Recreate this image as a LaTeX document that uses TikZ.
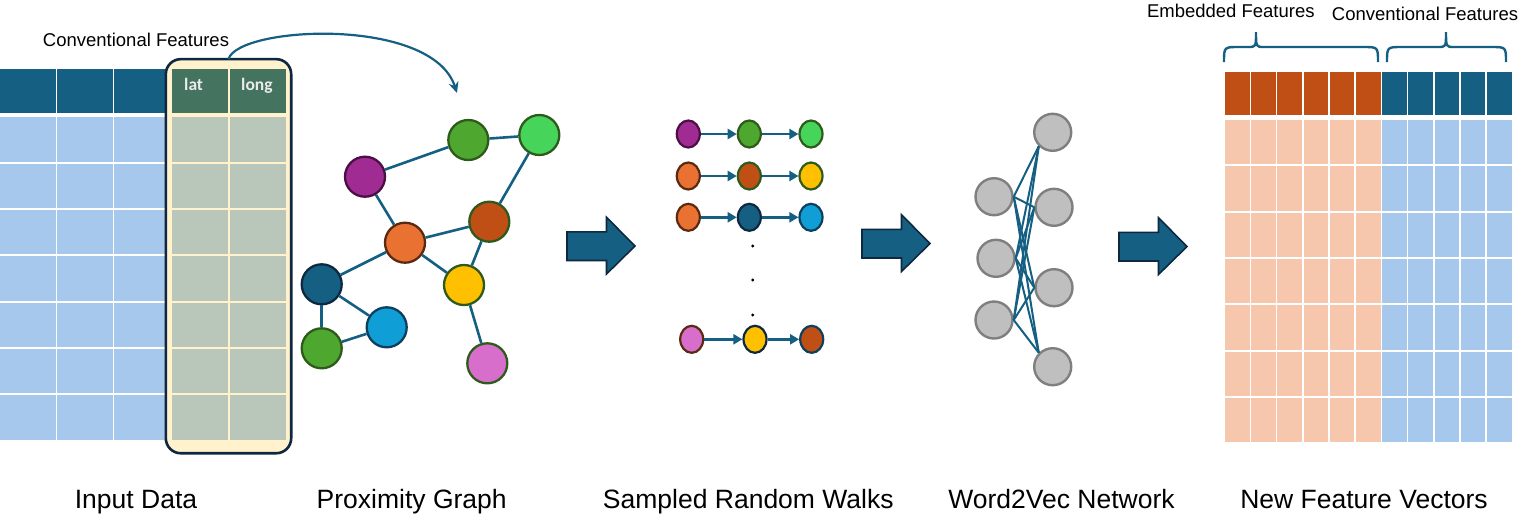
\documentclass[tikz,border=0pt]{standalone}
\usepackage{fontspec}
\setmainfont{Liberation Sans}
\newfontfamily\hdrfont{Carlito}
\usetikzlibrary{arrows.meta,shapes.geometric}
\definecolor{hdrblue}{HTML}{156082}
\definecolor{cellblue}{HTML}{A6C8EC}
\definecolor{hdrorange}{HTML}{C04F15}
\definecolor{cellorange}{HTML}{F6C6AD}
\definecolor{hlyellow}{HTML}{FFF2CC}
\definecolor{hlhdr}{HTML}{44735F}
\definecolor{hlcell}{HTML}{B8C7B9}
\definecolor{navy}{HTML}{0E2841}
\definecolor{edgeblue}{HTML}{156082}
\definecolor{cpurple}{HTML}{A02B93}
\definecolor{cgreen}{HTML}{4EA72E}
\definecolor{clgreen}{HTML}{47D45A}
\definecolor{corange}{HTML}{E97132}
\definecolor{cbrown}{HTML}{C04F15}
\definecolor{cyellow}{HTML}{FFC000}
\definecolor{cdblue}{HTML}{156082}
\definecolor{cblue}{HTML}{0F9ED5}
\definecolor{cpink}{HTML}{D86ECC}
\definecolor{dpurple}{HTML}{4B0F44}
\definecolor{dgreen}{HTML}{2E5A1C}
\definecolor{dorange}{HTML}{5A2A10}
\definecolor{dblue}{HTML}{0E3F5C}
\definecolor{ngray}{HTML}{BFBFBF}
\definecolor{ngrayd}{HTML}{7F7F7F}
\begin{document}
\begin{tikzpicture}[x=1pt,y=-1pt,
  gn/.style={circle, minimum size=40, inner sep=0, line width=2.3},
  wn/.style={ellipse, minimum width=23, minimum height=27, inner sep=0, line width=2.2},
  nn/.style={circle, minimum size=37, inner sep=0, line width=2.4, fill=ngray, draw=ngrayd},
  gedge/.style={draw=edgeblue, line width=2.6},
  wedge/.style={draw=edgeblue, line width=2.6, -{Triangle[length=9,width=10]}},
  nedge/.style={draw=edgeblue, line width=2},
  blockarrow/.style={fill=hdrblue, draw=navy, line width=1.6},
  brace/.style={draw=edgeblue, line width=2.4},
  smalltxt/.style={font=\fontsize{18.5}{22}\selectfont, inner sep=0, anchor=base},
  bigtxt/.style={font=\fontsize{26.5}{31}\selectfont, inner sep=0, anchor=base},
  hdrtxt/.style={font=\hdrfont\bfseries\fontsize{17.5}{20}\selectfont, text=white!92!black, inner sep=0, anchor=base west}
]
\useasboundingbox (0,0) rectangle (1522,523);

% ---------------- Input data table ----------------
\foreach \i in {0,1,2} {
  \fill[hdrblue] (57.2*\i, 69.3) rectangle ++(55.6, 43.4);
  \foreach \j in {0,...,6} {
    \fill[cellblue] (57.2*\i, 117.3+46.35*\j) rectangle ++(55.6, 44.4);
  }
}
\node[minimum width=125, minimum height=393.7, rounded corners=15, fill=hlyellow, inner sep=0] (hl) at (228.5,256.2) {};
\foreach \x/\w in {172/56.3, 230/55.7} {
  \fill[hlhdr] (\x, 69.3) rectangle ++(\w, 43.4);
  \foreach \j in {0,...,6} {
    \fill[hlcell] (\x, 117.3+46.35*\j) rectangle ++(\w, 44.4);
  }
}
\draw[navy, line width=2.6, rounded corners=15] (hl.south west) rectangle (hl.north east);
\node[hdrtxt] (lat) at (184,90.7) {lat};
\node[hdrtxt] (long) at (241,90.7) {long};
\node[smalltxt] (convL) at (136,46.7) {Conventional Features};

% curved arrow to graph
\coordinate (arrEnd) at (457,93);
\draw[edgeblue, line width=2.2, -{Stealth[length=11,width=10]}] (hl.north) .. controls (238,26) and (432,16) .. (arrEnd);

% ---------------- Proximity graph ----------------
\node[gn, fill=cpurple, draw=dpurple] (gP) at (365,176.7) {};
\node[gn, fill=cgreen, draw=dgreen] (gG1) at (468.3,140) {};
\node[gn, fill=clgreen, draw=dgreen] (gLG) at (539.3,135) {};
\node[gn, fill=corange, draw=dorange] (gO) at (405,242.7) {};
\node[gn, fill=cbrown, draw=dgreen] (gB) at (489.3,221.7) {};
\node[gn, fill=cyellow, draw=dgreen] (gY) at (464,285) {};
\node[gn, fill=cdblue, draw=navy] (gD) at (321.7,284.3) {};
\node[gn, fill=cblue, draw=dblue] (gBl) at (386.7,327.3) {};
\node[gn, fill=cgreen, draw=dgreen] (gG2) at (321.7,348.3) {};
\node[gn, fill=cpink, draw=dgreen] (gPk) at (487.3,363.3) {};
\foreach \a/\b in {gP/gG1, gG1/gLG, gLG/gB, gP/gO, gO/gB, gO/gY, gB/gY, gO/gD, gD/gG2, gD/gBl, gG2/gBl, gY/gPk} {
  \draw[gedge] (\a) -- (\b);
}

% ---------------- Block arrows ----------------
\foreach \x/\y in {567/246, 862/243.5, 1119/246.5} {
  \path[blockarrow] (\x,\y-14.2) -- (\x+39.5,\y-14.2) -- (\x+39.5,\y-28.7) -- (\x+68,\y) -- (\x+39.5,\y+28) -- (\x+39.5,\y+14.5) -- (\x,\y+14.5) -- cycle;
}

% ---------------- Random walks ----------------
\node[wn, fill=cpurple, draw=dpurple] (w11) at (688.3,134) {};
\node[wn, fill=cgreen, draw=dgreen] (w12) at (749.3,134) {};
\node[wn, fill=clgreen, draw=dgreen] (w13) at (811,134) {};
\node[wn, fill=corange, draw=dorange] (w21) at (688.3,176) {};
\node[wn, fill=cbrown, draw=dgreen] (w22) at (749.3,176) {};
\node[wn, fill=cyellow, draw=dgreen] (w23) at (811,176) {};
\node[wn, fill=corange, draw=dorange] (w31) at (688.3,217.3) {};
\node[wn, fill=cdblue, draw=navy] (w32) at (749.3,217.3) {};
\node[wn, fill=cblue, draw=dblue] (w33) at (811,217.3) {};
\node[wn, fill=cpink, draw=dorange] (w41) at (691.7,339.3) {};
\node[wn, fill=cyellow, draw=navy] (w42) at (755,339.3) {};
\node[wn, fill=cbrown, draw=dblue] (w43) at (811.7,339.3) {};
\foreach \r in {1,2,3,4} {
  \draw[wedge] (w\r1) -- (w\r2);
  \draw[wedge] (w\r2) -- (w\r3);
}
\foreach \y in {246,280,315} {
  \fill[black] (752.7,\y) circle[radius=1.7];
}

% ---------------- Word2Vec network ----------------
\node[nn] (l1) at (994,196.7) {};
\node[nn] (l2) at (996,258.3) {};
\node[nn] (l3) at (994,320) {};
\node[nn] (r1) at (1052.7,132.3) {};
\node[nn] (r2) at (1054,207.3) {};
\node[nn] (r3) at (1054,287.7) {};
\node[nn] (r4) at (1052.7,366.7) {};
\foreach \l in {l1,l2,l3} {
  \draw[nedge] (\l.east) -- (r1.south west);
  \draw[nedge] (\l.east) -- (r2.west);
  \draw[nedge] (\l.east) -- (r3.west);
  \draw[nedge] (\l.east) -- (r4.north west);
}

% ---------------- New feature vectors ----------------
\foreach \i in {0,...,10} {
  \ifnum\i<6
    \fill[hdrorange] (1225+26.2*\i, 71.7) rectangle ++(24.6, 43.3);
    \foreach \j in {0,...,6} {
      \fill[cellorange] (1225+26.2*\i, 120+46.3*\j) rectangle ++(24.6, 44.4);
    }
  \else
    \fill[hdrblue] (1225+26.2*\i, 71.7) rectangle ++(24.6, 43.3);
    \foreach \j in {0,...,6} {
      \fill[cellblue] (1225+26.2*\i, 120+46.3*\j) rectangle ++(24.6, 44.4);
    }
  \fi
}
% braces
\draw[brace] (1224,62) .. controls (1224,47) .. (1239,47) -- (1248,47) .. controls (1256,47) .. (1256,32) .. controls (1256,47) .. (1264,47) -- (1363,47) .. controls (1378,47) .. (1378,62);
\draw[brace] (1387,62) .. controls (1387,47) .. (1402,47) -- (1438,47) .. controls (1446,47) .. (1446,32) .. controls (1446,47) .. (1454,47) -- (1491,47) .. controls (1506,47) .. (1506,62);
\node[smalltxt] (embT) at (1230.8,17.3) {Embedded Features};
\node[smalltxt] (convR) at (1425,20) {Conventional Features};

% ---------------- Bottom labels ----------------
\node[bigtxt] (t1) at (136,508) {Input Data};
\node[bigtxt] (t2) at (411.7,508) {Proximity Graph};
\node[bigtxt] (t3) at (748.3,508) {Sampled Random Walks};
\node[bigtxt] (t4) at (1061.5,508) {Word2Vec Network};
\node[bigtxt] (t5) at (1364,508) {New Feature Vectors};
\end{tikzpicture}
\end{document}
